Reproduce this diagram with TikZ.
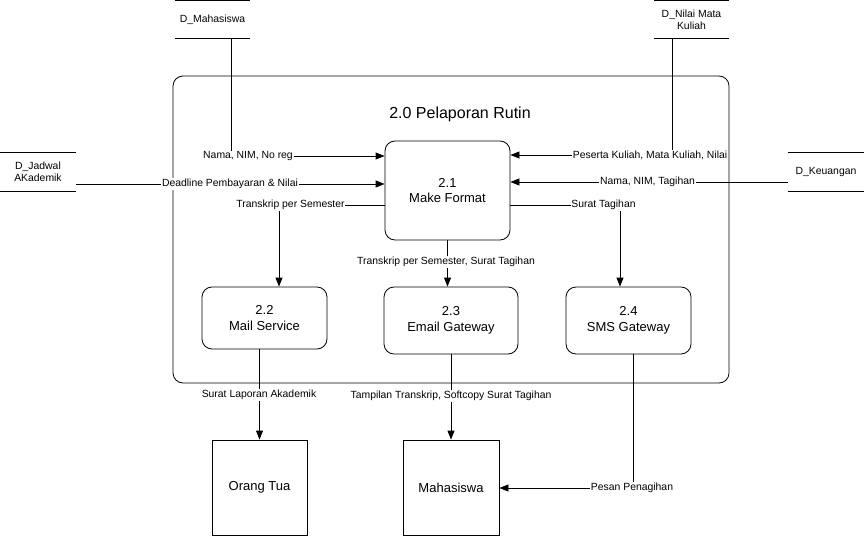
\documentclass[tikz,border=0pt]{standalone}
\usepackage{fontspec}
\setmainfont{Liberation Sans}
\usetikzlibrary{arrows.meta,calc}
\begin{document}
\begin{tikzpicture}[x=1pt,y=-1pt,
  flow/.style={draw=black,line width=0.8pt,-{Triangle[length=9pt,width=7pt]}},
  plain/.style={draw=black,line width=0.8pt},
  lbl/.style={fill=white,inner sep=0.8pt,font=\fontsize{10.4}{12}\selectfont},
  proc/.style={draw=black,line width=0.8pt,rounded corners=10pt,align=center,font=\fontsize{13}{15.5}\selectfont},
  ent/.style={draw=black,line width=0.8pt,align=center,font=\fontsize{13}{15.5}\selectfont},
  store/.style={align=center,inner sep=0pt,font=\fontsize{10.4}{12}\selectfont}]
\useasboundingbox (0,0) rectangle (864,537);
\fill[white] (0,0) rectangle (864,537);
% outer process
\node[draw=black,line width=0.8pt,rounded corners=10pt,minimum width=556pt,minimum height=307pt,inner sep=0pt] (outer) at (451,229.5) {};
\node[font=\fontsize{16}{19}\selectfont] (title) at (460,114) {2.0 Pelaporan Rutin};
% data stores
\node[store,minimum width=75pt,minimum height=37pt] (dmhs) at (212.5,19.5) {D\_Mahasiswa};
\node[store,minimum width=75pt,minimum height=37pt] (dnilai) at (691.5,19.5) {D\_Nilai Mata\\Kuliah};
\node[store,minimum width=76pt,minimum height=38pt] (djad) at (38,172) {D\_Jadwal\\AKademik};
\node[store,minimum width=76pt,minimum height=38pt] (dkeu) at (826,172) {D\_Keuangan};
\foreach \s in {dmhs,dnilai,djad,dkeu}{
  \draw[plain] (\s.north west) -- (\s.north east);
  \draw[plain] (\s.south west) -- (\s.south east);
}
% processes
\node[proc,minimum width=125pt,minimum height=99pt] (p21) at (447.5,190.5) {2.1\\Make Format};
\node[proc,minimum width=125pt,minimum height=62pt] (p22) at (264.5,318) {2.2\\Mail Service};
\node[proc,minimum width=134pt,minimum height=67pt] (p23) at (451,320.5) {2.3\\Email Gateway};
\node[proc,minimum width=125pt,minimum height=67pt] (p24) at (628.5,320.5) {2.4\\SMS Gateway};
% entities
\node[ent,minimum width=95pt,minimum height=95pt] (ortu) at (259.5,487.5) {Orang Tua};
\node[ent,minimum width=96pt,minimum height=95pt] (mhs) at (451,487.5) {Mahasiswa};
% coordinates of bends
\coordinate (c1) at (231,156);
\coordinate (c2) at (672,155);
\coordinate (c3) at (279,205);
\coordinate (c4) at (620,205);
\coordinate (c5) at (633,488);
% flows
\draw[flow] (dmhs.south -| c1) -- (c1) -- (p21.west |- c1);
\draw[flow] (djad.east |- 0,184) -- (p21.west |- 0,184);
\draw[flow] (p21.west |- c3) -- (c3) -- (p22.north -| c3);
\draw[flow] (dnilai.south -| c2) -- (c2) -- (p21.east |- c2);
\draw[flow] (dkeu.west |- 0,182) -- (p21.east |- 0,182);
\draw[flow] (p21.east |- c4) -- (c4) -- (p24.north -| c4);
\draw[flow] (p21.south) -- (p23.north -| p21.south);
\draw[flow] (p22.south -| ortu.north) -- (ortu.north);
\draw[flow] (p23.south) -- (mhs.north);
\draw[flow] (p24.south -| c5) -- (c5) -- (mhs.east |- c5);
% labels
\node[lbl] (l1) at (248,156) {Nama, NIM, No reg};
\node[lbl] (l2) at (230,184) {Deadline Pembayaran \& Nilai};
\node[lbl] (l3) at (290.5,205) {Transkrip per Semester};
\node[lbl] (l4) at (650,155) {Peserta Kuliah, Mata Kuliah, Nilai};
\node[lbl] (l5) at (647.5,182) {Nama, NIM, Tagihan};
\node[lbl] (l6) at (603.5,205) {Surat Tagihan};
\node[lbl] (l7) at (446,262) {Transkrip per Semester, Surat Tagihan};
\node[lbl] (l8) at (259,395) {Surat Laporan Akademik};
\node[lbl] (l9) at (451,396) {Tampilan Transkrip, Softcopy Surat Tagihan};
\node[lbl] (l10) at (632,488) {Pesan Penagihan};
\end{tikzpicture}
\end{document}
